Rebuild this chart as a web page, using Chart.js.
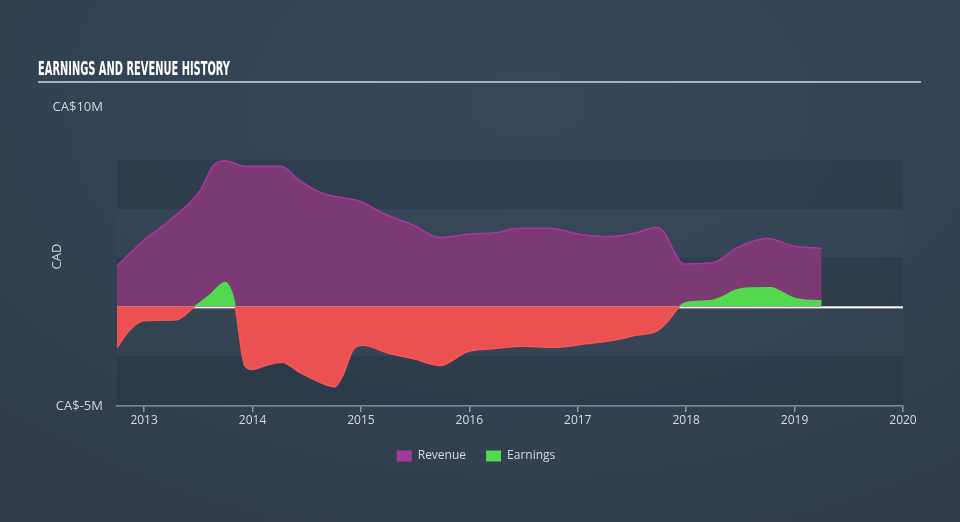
<!DOCTYPE html>
<html>
<head>
<meta charset="utf-8">
<script src="https://cdn.jsdelivr.net/npm/chart.js@4/dist/chart.umd.min.js"></script>
<style>
html,body{margin:0;padding:0;width:960px;height:522px;overflow:hidden;}
body{background:radial-gradient(ellipse 80% 90% at 55% 20%, #36475a 0%, #334353 55%, #303c4a 100%);}
#wrap{position:relative;width:960px;height:522px;}
#title{position:absolute;left:38px;top:57px;color:#fff;font:bold 19px/22px "DejaVu Sans Condensed","DejaVu Sans",sans-serif;transform-origin:0 0;white-space:nowrap;}
#rule{position:absolute;left:38px;top:81px;width:883px;height:2px;background:#a9b1ba;}
canvas{position:absolute;left:0;top:0;}
</style>
</head>
<body>
<div id="wrap">
  <canvas id="c" width="960" height="522"></canvas>
  <div id="title">EARNINGS AND REVENUE HISTORY</div>
  <div id="rule"></div>
</div>
<script>
// values, in CA$ millions
const revYears=[2012.75,2013.0,2013.24,2013.52,2013.64,2013.75,2013.93,2014.26,2014.44,2014.63,2015.0,2015.24,2015.48,2015.73,2015.98,2016.26,2016.44,2016.75,2017.0,2017.28,2017.52,2017.74,2017.79,2017.98,2018.25,2018.48,2018.75,2018.99,2019.25];
const revVals=[2.03,3.33,4.33,5.83,7.08,7.3,7.03,7.03,6.3,5.7,5.25,4.58,4.08,3.45,3.62,3.7,3.92,3.92,3.63,3.5,3.67,3.97,3.75,2.13,2.2,2.97,3.4,3.03,2.9];
const earnYears=[2012.75,2012.87,2013.0,2013.3,2013.47,2013.61,2013.75,2013.81,2013.84,2013.93,2014.0,2014.12,2014.27,2014.44,2014.63,2014.76,2014.83,2014.93,2015.02,2015.24,2015.48,2015.73,2015.98,2016.22,2016.47,2016.78,2017.09,2017.33,2017.52,2017.74,2017.83,2017.94,2018.01,2018.22,2018.31,2018.47,2018.59,2018.78,2018.87,2018.99,2019.12,2019.25];
const earnVals=[-2.08,-1.17,-0.72,-0.67,0,0.58,1.2,0.68,0,-3.0,-3.17,-2.97,-2.8,-3.33,-3.83,-4.03,-3.5,-2.17,-1.95,-2.33,-2.62,-2.97,-2.28,-2.13,-2.0,-2.05,-1.87,-1.7,-1.47,-1.2,-0.75,0,0.2,0.28,0.42,0.83,0.92,0.93,0.75,0.42,0.3,0.27];
const xTicks=[2013,2014,2015,2016,2017,2018,2019,2020];
const yTicks=[-5,10];
const yTickLabels=['CA$-5M','CA$10M'];
const bandEdges=[-5,-2.5,0,2.45,4.9,7.35];

const t=document.getElementById('title');
t.style.transform='scaleX('+(192/t.getBoundingClientRect().width)+')';

const GREEN='#52d94e', RED='#ec5151', PURPLE='#7b3a74', MAGENTA='#a8389e';
const legendColors=[ '#a03c98', GREEN ];

const bands={id:'bands',beforeDatasetsDraw(c){
  const {ctx,chartArea:a,scales:{y}}=c;
  ctx.save();
  for(let i=0;i<bandEdges.length-1;i++){
    const top=y.getPixelForValue(bandEdges[i+1]), bot=y.getPixelForValue(bandEdges[i]);
    ctx.fillStyle=i%2?'rgba(255,255,255,0.012)':'rgba(20,30,42,0.16)';
    ctx.fillRect(a.left,top,a.right-a.left,bot-top);
  }
  const z=y.getPixelForValue(0);
  ctx.fillStyle='#ffffff';
  ctx.fillRect(a.left,z,a.right-a.left,2);
  ctx.restore();
}};

new Chart(document.getElementById('c'),{
  type:'line',
  data:{datasets:[
    {label:'Revenue',data:revYears.map((x,i)=>({x,y:revVals[i]})),backgroundColor:PURPLE,borderColor:MAGENTA,borderWidth:1.5,
     fill:{target:{value:0}},pointRadius:0,cubicInterpolationMode:'monotone',order:2},
    {label:'Earnings',data:earnYears.map((x,i)=>({x,y:earnVals[i]})),borderWidth:1.5,
     fill:{target:{value:0},above:GREEN,below:RED},pointRadius:0,cubicInterpolationMode:'monotone',order:1,
     segment:{borderColor:s=>(s.p0.parsed.y+s.p1.parsed.y)>=0?GREEN:'#f55656'}}
  ]},
  options:{
    responsive:false,animation:false,
    layout:{padding:{left:49,right:57,top:107,bottom:50}},
    plugins:{
      tooltip:{enabled:false},
      legend:{position:'bottom',labels:{boxWidth:15,boxHeight:11,padding:20,color:'#d5dbe1',font:{family:'"Open Sans"',size:12},
        generateLabels:c=>c.data.datasets.map((d,i)=>({text:d.label,fillStyle:legendColors[i],strokeStyle:legendColors[i],lineWidth:0,fontColor:'#d5dbe1',datasetIndex:i,hidden:false}))}}
    },
    scales:{
      x:{type:'linear',min:2012.75,max:2020,
        afterBuildTicks:s=>{s.ticks=xTicks.map(v=>({value:v}));},
        afterFit:s=>{s.height=24;},
        ticks:{callback:v=>String(v),color:'#d8dde2',font:{family:'"Open Sans"',size:12},padding:1,maxRotation:0},
        grid:{drawOnChartArea:false,drawTicks:true,tickLength:6,color:'#8d9aa8',lineWidth:1.5},
        border:{color:'#8d9aa8',width:1.5}},
      y:{min:-5,max:10,
        afterBuildTicks:s=>{s.ticks=yTicks.map(v=>({value:v}));},
        afterFit:s=>{s.width=68;},
        ticks:{callback:v=>yTickLabels[yTicks.indexOf(v)],color:'#cfd5db',font:{family:'"Open Sans"',size:13},padding:14},
        grid:{display:false,drawTicks:false},border:{display:false},
        title:{display:true,text:'CAD',color:'#cfd5db',font:{family:'"Open Sans"',size:13},padding:0}}
    }
  },
  plugins:[bands]
});
</script>
</body>
</html>
